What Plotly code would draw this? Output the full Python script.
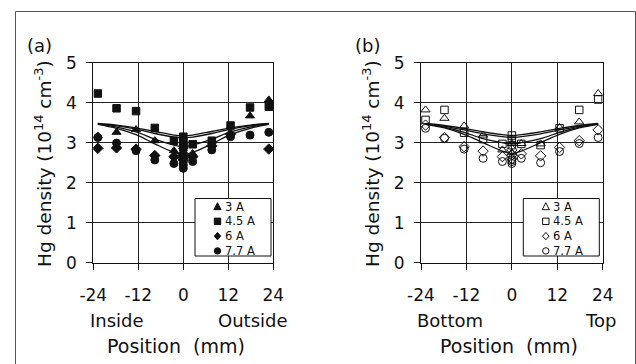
import plotly.graph_objects as go

W, H = 636, 364

# ---------------- data ----------------
pos = [-22.8, -17.8, -12.6, -7.6, -2.5, 0, 2.5, 7.6, 12.6, 17.8, 22.8]
series_names = ["3 A", "4.5 A", "6 A", "7.7 A"]

# panel (a): Inside / Outside
a_3A = [3.17, 3.26, 3.33, 3.05, 2.80, 2.90, 2.73, 3.04, 3.40, 3.67, 4.07]
a_45A = [4.23, 3.86, 3.79, 3.37, 3.05, 3.15, 2.96, 3.05, 3.43, 3.88, 3.90]
a_6A = [2.86, 2.87, 2.84, 2.68, 2.65, 2.69, 2.65, 2.92, 3.21, None, 2.84]
a_77A = [3.13, 2.99, 2.80, 2.57, 2.48, 2.44, 2.53, 2.82, 3.15, 3.19, 3.26]
a_center_extra = {"3 A": [2.78], "4.5 A": [3.05, 2.95, 2.88], "6 A": [2.57, 2.62], "7.7 A": [2.36, 2.52]}

a_fit1 = [3.48, 3.44, 3.37, 3.28, 3.19, 3.17, 3.19, 3.28, 3.37, 3.44, 3.48]
a_fit2 = [3.47, 3.42, 3.34, 3.23, 3.14, 3.12, 3.14, 3.23, 3.34, 3.42, 3.47]
a_fit3 = [3.47, 3.39, 3.27, 3.09, 2.94, 2.90, 2.94, 3.09, 3.27, 3.39, 3.47]
a_fit4 = [3.46, 3.36, 3.20, 2.97, 2.76, 2.71, 2.76, 2.97, 3.20, 3.36, 3.46]

# panel (b): Bottom / Top
b_3A = [3.82, 3.61, 3.42, 3.19, 2.82, 2.98, 2.98, 2.97, 3.38, 3.52, 4.23]
b_45A = [3.57, 3.82, 3.25, 3.09, 2.97, 3.18, 2.97, 2.94, 3.36, 3.82, 4.08]
b_6A = [3.44, 3.13, 2.90, 2.79, 2.65, 2.82, 2.72, 2.67, 2.88, 3.05, 3.32]
b_77A = [3.36, 3.11, 2.84, 2.61, 2.53, 2.48, 2.61, 2.50, 2.78, 2.98, 3.13]
b_center_extra = {"3 A": [2.75], "4.5 A": [3.07, 2.94], "6 A": [2.69, 2.60], "7.7 A": [2.57, 2.53]}

b_fit1 = [3.48, 3.43, 3.36, 3.27, 3.20, 3.18, 3.20, 3.27, 3.36, 3.43, 3.48]
b_fit2 = [3.47, 3.41, 3.32, 3.22, 3.15, 3.13, 3.15, 3.22, 3.32, 3.41, 3.47]
b_fit3 = [3.47, 3.39, 3.26, 3.10, 3.00, 2.97, 3.00, 3.10, 3.26, 3.39, 3.47]
b_fit4 = [3.46, 3.37, 3.21, 3.00, 2.79, 2.73, 2.79, 3.00, 3.21, 3.37, 3.46]

x_ticks = [-24, -12, 0, 12, 24]
x_tick_labels = ["-24", "-12", "0", "12", "24"]
y_ticks = [0, 1, 2, 3, 4, 5]

FONT = "DejaVu Sans"
filled_symbols = ["triangle-up", "square", "diamond", "circle"]
open_symbols = ["triangle-up-open", "square-open", "diamond-open", "circle-open"]


def px_x(p):
    return p / W


def px_y(p):
    return 1 - p / H


fig = go.Figure()

panels = [
    dict(xa="x", ya="y", vals=[a_3A, a_45A, a_6A, a_77A], extra=a_center_extra,
         fits=[a_fit1, a_fit2, a_fit3, a_fit4], symbols=filled_symbols),
    dict(xa="x2", ya="y2", vals=[b_3A, b_45A, b_6A, b_77A], extra=b_center_extra,
         fits=[b_fit1, b_fit2, b_fit3, b_fit4], symbols=open_symbols),
]

for p in panels:
    for fit in p["fits"]:
        fig.add_trace(go.Scatter(x=pos, y=fit, xaxis=p["xa"], yaxis=p["ya"], mode="lines",
                                 line=dict(color="#111", width=1.3, shape="spline"),
                                 showlegend=False, hoverinfo="skip"))
    for name, vals, sym in zip(series_names, p["vals"], p["symbols"]):
        ex = p["extra"][name]
        xs = pos + [0] * len(ex)
        ys = vals + ex
        fig.add_trace(go.Scatter(x=xs, y=ys, xaxis=p["xa"], yaxis=p["ya"], mode="markers", name=name,
                                 marker=dict(symbol=sym, size=7.5 if "square" in sym else 8,
                                             color="#111", line=dict(color="#111", width=1)),
                                 showlegend=False))

axis_common = dict(showgrid=True, gridcolor="#222", gridwidth=1.1, showline=True, linecolor="#111",
                   linewidth=1.1, mirror=True, ticks="outside", ticklen=6, tickcolor="#111",
                   zeroline=False, automargin=False,
                   tickfont=dict(family=FONT, size=17, color="#111"))

ydom = [px_y(262.7), px_y(62.7)]
fig.update_layout(
    width=W, height=H, margin=dict(l=0, r=0, t=0, b=0, pad=0), autosize=False,
    paper_bgcolor="white", plot_bgcolor="white",
    xaxis=dict(domain=[px_x(93.3), px_x(273.3)], range=[-24, 24], tickvals=x_ticks,
               ticktext=x_tick_labels, ticklabelstandoff=11, anchor="y", **axis_common),
    yaxis=dict(domain=ydom, range=[0, 5], tickvals=y_ticks, ticklabelstandoff=6,
               anchor="x", **axis_common),
    xaxis2=dict(domain=[px_x(421), px_x(602.7)], range=[-24, 24], tickvals=x_ticks,
                ticktext=x_tick_labels, ticklabelstandoff=11, anchor="y2", **axis_common),
    yaxis2=dict(domain=ydom, range=[0, 5], tickvals=y_ticks, ticklabelstandoff=6,
                anchor="x2", **axis_common),
    showlegend=False,
)

annotations = []
shapes = []


def add_text(x, y, text, size, xanchor="center", yanchor="middle", angle=0):
    annotations.append(dict(x=px_x(x), y=px_y(y), xref="paper", yref="paper", text=text,
                            showarrow=False, xanchor=xanchor, yanchor=yanchor, textangle=angle,
                            font=dict(family=FONT, size=size, color="#111")))


def legend_key(kind, cx, cy, filled):
    """Small legend key drawn as a layout shape (pixel centre cx, cy)."""
    r = 3.2
    fill = "#111" if filled else "white"
    line = dict(color="#111", width=1)
    if kind == "circle":
        shapes.append(dict(type="circle", xref="paper", yref="paper", x0=px_x(cx - r), x1=px_x(cx + r),
                           y0=px_y(cy + r), y1=px_y(cy - r), fillcolor=fill, line=line, layer="above"))
        return
    if kind == "square":
        pts = [(cx - r, cy - r), (cx + r, cy - r), (cx + r, cy + r), (cx - r, cy + r)]
    elif kind == "triangle":
        pts = [(cx, cy - r - 0.6), (cx + r + 0.4, cy + r), (cx - r - 0.4, cy + r)]
    else:
        pts = [(cx, cy - r - 0.5), (cx + r, cy), (cx, cy + r + 0.5), (cx - r, cy)]
    path = "M " + " L ".join(f"{px_x(x):.5f},{px_y(y):.5f}" for x, y in pts) + " Z"
    shapes.append(dict(type="path", xref="paper", yref="paper", path=path, fillcolor=fill,
                       line=line, layer="above"))


ytitle = "Hg density (10<sup>14</sup> cm<sup>-3</sup>)"
key_kinds = ["triangle", "square", "diamond", "circle"]
for (label, lx, tx, left_lab, lx_lab, right_lab, rx_lab, pos_x, leg_x0, filled) in [
    ("(a)", 39, 43, "Inside", 117, "Outside", 253, 176, 195, True),
    ("(b)", 367, 371, "Bottom", 450, "Top", 600, 509, 523.3, False),
]:
    add_text(lx, 45, label, 18)
    add_text(tx, 164, ytitle, 18.5, angle=-90)
    add_text(lx_lab, 320, left_lab, 18)
    add_text(rx_lab, 320, right_lab, 18)
    add_text(pos_x, 346, "Position  (mm)", 19)
    # legend box
    shapes.append(dict(type="rect", xref="paper", yref="paper", x0=px_x(leg_x0), x1=px_x(leg_x0 + 76),
                       y0=px_y(256), y1=px_y(198.5), line=dict(color="#111", width=1),
                       fillcolor="white", layer="above"))
    for i, (kind, name) in enumerate(zip(key_kinds, series_names)):
        yy = 206.5 + i * 14.8
        legend_key(kind, leg_x0 + 22.5, yy, filled)
        add_text(leg_x0 + 27.5, yy, name, 11.5, xanchor="left")

# outer frame
shapes.append(dict(type="rect", xref="paper", yref="paper", x0=px_x(15.5), x1=px_x(635.5),
                   y0=-0.05, y1=px_y(11.5), line=dict(color="#555", width=1), layer="below"))

fig.update_layout(annotations=annotations, shapes=shapes)
fig.write_html(
    "out.html",
    config={"displayModeBar": False},
    post_script=(
        "document.documentElement.style.margin='0';document.body.style.margin='0';"
        "document.body.style.padding='0';document.body.style.overflow='hidden';"
        "var g=document.querySelector('.plotly-graph-div');"
        "g.style.position='fixed';g.style.left='0px';g.style.top='0px';"
    ),
)
